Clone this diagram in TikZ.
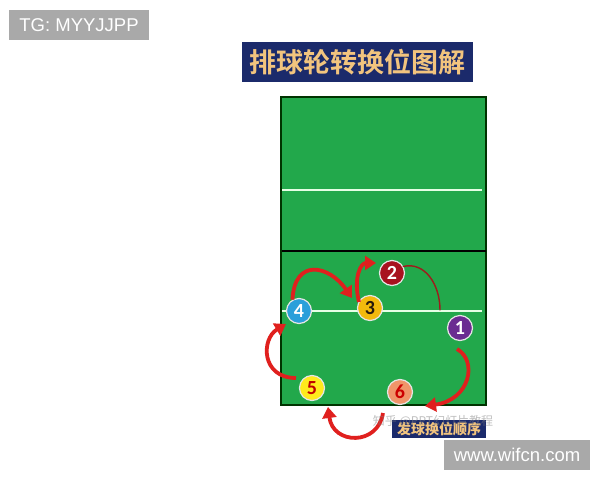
\documentclass[tikz,border=0pt]{standalone}
\usepackage{fontspec}
\setmainfont{Liberation Sans}
\newfontfamily\cjk{Noto Sans CJK SC}[BoldFont={Noto Sans CJK SC Bold}]
\newfontfamily\numfont{Carlito}
\usetikzlibrary{arrows.meta,calc}
\definecolor{courtgreen}{HTML}{22A84B}
\definecolor{navy}{HTML}{1B2A6B}
\definecolor{gold}{HTML}{F2C47E}
\definecolor{tagray}{HTML}{A9A9A9}
\definecolor{arrowred}{HTML}{E0201E}
\definecolor{darkred}{HTML}{9E1C1C}
\definecolor{cfour}{HTML}{2A9FDA}
\definecolor{cthree}{HTML}{F2B90C}
\definecolor{ctwo}{HTML}{A8121F}
\definecolor{cone}{HTML}{6A2C91}
\definecolor{cfive}{HTML}{FFEA1C}
\definecolor{csix}{HTML}{F0956A}
\tikzset{
  tagbox/.style={fill=tagray, text=white, inner sep=0pt, font=\fontsize{18.5}{18.5}\selectfont},
  titlebox/.style={fill=navy, text=gold, inner sep=0pt},
  player/.style={circle, minimum size=25pt, inner sep=0pt, draw=white!80!gray, line width=1.2pt,
                 font=\numfont\bfseries\fontsize{20}{20}\selectfont},
  whiteline/.style={draw=white!90!green, line width=2pt},
  redarrow/.style={draw=arrowred, line width=3.8pt, -{Triangle[length=11pt,width=14pt]}},
  thinarrow/.style={draw=darkred, line width=1.4pt, line cap=round},
}
\begin{document}
\begin{tikzpicture}[x=1pt,y=-1pt]
\useasboundingbox (0,0) rectangle (600,480);
\fill[white] (0,0) rectangle (600,480);

% watermark boxes
\node[tagbox, minimum width=140pt, minimum height=30pt] (tg) at (79,25) {TG: MYYJJPP};
\node[tagbox, minimum width=146pt, minimum height=30pt] (www) at (517,455) {www.wifcn.com};

% title
\node[titlebox, minimum width=231pt, minimum height=40pt,
      font=\cjk\bfseries\fontsize{27}{27}\selectfont] (title) at (357.5,62) {排球轮转换位图解};

% court
\node[draw=black!80!green, line width=1.5pt, fill=courtgreen, minimum width=205pt,
      minimum height=308pt, inner sep=0pt] (court) at (383.5,251) {};
\draw[whiteline] (282,190) -- (482,190);
\draw[black, line width=2pt] (282,251) -- (485.5,251);
\draw[whiteline] (282,311) -- (482,311);

% players
\node[player, fill=cfour, text=white] (p4) at (299,311) {4};
\node[player, fill=cthree, text=black!80!brown] (p3) at (370,308) {3};
\node[player, fill=ctwo, text=white] (p2) at (392,273) {2};
\node[player, fill=cone, text=white] (p1) at (460,328) {1};
\node[player, fill=cfive, text=red!75!black] (p5) at (312,388) {5};
\node[player, fill=csix, text=red!80!black] (p6) at (400,392) {6};

% rotation arrows
\draw[redarrow] (p4.120) .. controls +(2,-42) and +(-23,-33) .. ($(p3)+(-18,-10)$);
\draw[redarrow] ($(p3)+(-11,-6)$) .. controls +(-6,-25) and +(-15,0) .. ($(p2)+(-16,-10)$);
\draw[thinarrow] (p2.30) .. controls +(22,-5) and +(0,-25) .. ($(p1)+(-20,-18)$);
\draw[redarrow] ($(p1)+(-3,21)$) .. controls +(21,12) and +(45,-6) .. ($(p6)+(25,14)$);
\draw[redarrow] ($(p6)+(-17,21)$) .. controls +(-5,33) and +(5,38) .. ($(p5)+(16,19)$);
\draw[redarrow] ($(p5)+(-16,-10)$) .. controls +(-35,0) and +(-25,15) .. ($(p4)+(-13,13)$);

% bottom label
\node[titlebox, minimum width=94pt, minimum height=18pt,
      font=\cjk\bfseries\itshape\fontsize{14}{14}\selectfont] (label) at (439,429) {发球换位顺序};
\node[text=gray, opacity=0.5, inner sep=0pt, font=\cjk\fontsize{12}{12}\selectfont] (zh) at (433,421) {知乎 @PPT幻灯片教程};
\end{tikzpicture}
\end{document}
